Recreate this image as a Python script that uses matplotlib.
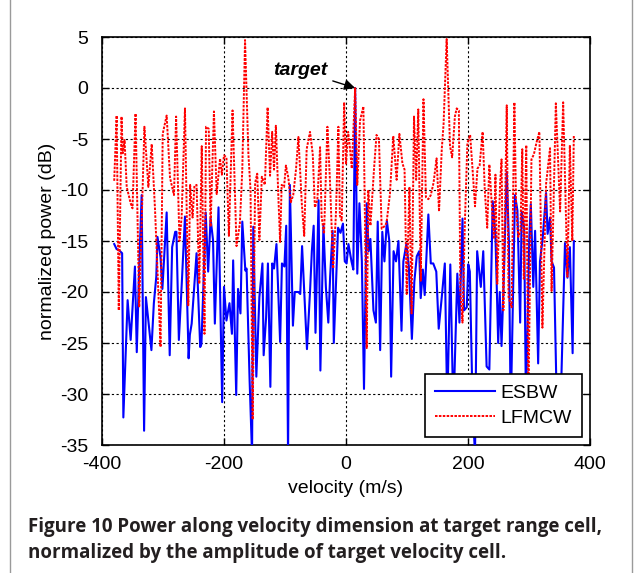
import matplotlib
matplotlib.use("Agg")
import matplotlib.pyplot as plt
from matplotlib.lines import Line2D

plt.rcParams['font.family'] = ['Liberation Sans', 'DejaVu Sans']
plt.rcParams['axes.unicode_minus'] = False

# ---------------- data ----------------
esbw_velocity = [
    -380, -376, -372, -367, -365, -358, -353, -346, -343, -339, -335, -331, -328, -319, -315,
    -311, -309, -304, -301, -294, -289, -285, -280, -278, -274, -269, -264, -258, -256, -253,
    -245, -239, -237, -234, -230, -226, -222, -218, -215, -209, -203, -200, -196, -191, -187,
    -185, -180, -177, -173, -170, -165, -163, -158, -154, -152, -147, -142, -137, -135, -131,
    -128, -124, -121, -118, -114, -108, -105, -101, -98, -95, -92, -87, -84, -78, -75,
    -72, -68, -64, -59, -56, -53, -50, -45, -42, -37, -33, -29, -26, -22, -20,
    -16, -13, -9, -5, -2, 1, 4, 9, 12, 15, 18.5, 22, 26, 29.5, 34,
    37, 40, 45, 49, 52, 56, 59.5, 63, 67, 71, 74, 78, 82, 86, 91,
    94, 99, 103, 108, 112, 116, 120, 122.5, 126, 129, 135, 139, 143, 148, 152,
    157, 162, 166, 171, 176, 182.5, 186, 191, 193.5, 198, 200.5, 203, 207.5, 211.5, 215,
    221, 225, 230.5, 235, 240.5, 245, 249.5, 252, 255, 258, 263.5, 267, 270, 277, 281,
    285.5, 288, 292, 295, 300.5, 303, 307, 310, 315, 318, 322.5, 328, 330.5, 334.5, 337,
    341, 345.5, 351, 355, 359, 363, 367, 371.5, 373.5]
esbw_db = [
    -15.3, -15.8, -15.9, -16.2, -32.3, -20.8, -24.7, -17.5, -25.9, -17.5, -10.5, -33.6, -20.5, -25.7, -21.1,
    -18.5, -14.6, -16.6, -19.7, -12.2, -26.2, -15.6, -14.1, -14.1, -24.7, -18.9, -12.6, -26.5, -24.2, -23.1,
    -16.2, -25.4, -25.1, -19.8, -12.2, -18.0, -12.8, -14.9, -23.1, -11.7, -30.8, -19.5, -22.8, -21.1, -24.1,
    -16.9, -30.1, -19.7, -22.1, -13.1, -17.9, -17.7, -28.7, -36.0, -13.6, -28.3, -20.5, -17.2, -26.2, -22.5,
    -17.2, -29.3, -17.2, -17.7, -15.3, -24.9, -17.2, -17.5, -13.5, -36.0, -9.5, -23.3, -20.0, -20.0, -20.2,
    -15.5, -20.5, -25.6, -20.0, -16.0, -13.5, -24.0, -11.0, -27.7, -13.5, -19.5, -23.0, -18.5, -14.0, -25.0,
    -18.5, -13.7, -14.2, -13.3, -17.0, -17.2, -15.3, -17.0, -17.8, 0.0, -18.2, -11.3, -17.0, -29.5, -11.3,
    -16.0, -14.8, -21.8, -23.0, -13.1, -25.7, -14.1, -17.0, -13.0, -15.0, -28.3, -16.0, -17.0, -15.0, -23.8,
    -17.0, -15.3, -17.5, -24.6, -19.0, -16.5, -16.0, -20.6, -17.8, -20.3, -12.4, -17.2, -17.2, -18.0, -23.6,
    -20.5, -17.2, -31.5, -17.3, -32.0, -18.2, -23.0, -12.8, -21.8, -21.5, -17.3, -18.0, -31.0, -36.0, -16.0,
    -19.5, -16.0, -27.3, -27.6, -11.1, -14.5, -25.0, -20.0, -25.3, -19.9, -8.2, -15.0, -32.0, -10.5, -12.0,
    -23.0, -12.1, -13.7, -31.0, -14.7, -11.4, -19.5, -14.0, -27.0, -17.0, -14.7, -10.3, -14.3, -12.7, -17.0,
    -17.6, -31.0, -33.0, -24.0, -15.2, -18.6, -15.6, -26.0, -15.0]

lfmcw_velocity = [
    -380, -376, -372.5, -368, -366, -363, -359.5, -353, -350, -345, -339, -330.5, -324, -318.5, -313,
    -304, -300.5, -294, -288.5, -282, -278.5, -273, -269.5, -264, -258.5, -255.5, -251.5, -248.5, -245, -240.5,
    -236.5, -232, -229.5, -225, -222, -216.5, -212, -206.5, -203.5, -200, -196, -192, -186, -179.5, -174,
    -170, -165.5, -160, -156.5, -153, -149, -145.5, -142, -138, -133, -128.5, -124.5, -121, -118, -115,
    -111, -108, -105.5, -101.5, -98.5, -94.5, -90.5, -86.5, -82, -78, -72.5, -68.5, -64.5, -59, -54.5,
    -51, -47, -42.5, -40, -36, -30.5, -26.5, -21, -16.5, -12.5, -10, -7, -3, 0, 3.5,
    6, 9.5, 15, 18.5, 23, 28.5, 34, 36.5, 40, 46, 50, 54, 58.5, 64, 66.5,
    72, 77.5, 83, 87.5, 92.5, 96, 99.5, 104, 107.5, 111.5, 115, 118.5, 122.5, 127, 131,
    135, 139, 143.5, 148.5, 152.5, 157, 160, 165, 170.5, 174, 178.5, 181.5, 185, 187.5, 191,
    195, 199, 203.5, 207.5, 211.5, 215.5, 219, 224, 227.5, 231.5, 235, 238.5, 242.5, 245, 248,
    252.5, 255, 258, 263.5, 266.5, 271.5, 276, 279, 282.5, 286, 289, 291.5, 295.5, 299, 304,
    308, 312.5, 317, 322, 328, 334.5, 337, 344, 351, 356, 363, 367, 371, 373.5]
lfmcw_db = [
    -9.1, -2.7, -21.8, -2.8, -6.4, -5.1, -9.7, -11.3, -11.8, -2.5, -21.5, -3.8, -9.7, -5.5, -12.0,
    -25.4, -4.5, -2.7, -8.8, -10.5, -2.8, -15.0, -12.7, -2.0, -21.3, -9.5, -12.7, -9.6, -9.5, -19.2,
    -5.7, -24.1, -3.8, -4.0, -13.6, -2.3, -10.4, -6.9, -8.5, -6.6, -6.8, -14.5, -2.2, -15.5, -13.3,
    -8.0, 4.7, -6.5, -10.0, -32.5, -9.3, -8.4, -14.9, -8.7, -9.5, -1.9, -8.6, -4.3, -8.0, -3.7,
    -10.5, -15.1, -9.5, -9.7, -7.6, -8.8, -11.2, -10.5, -8.0, -4.8, -11.3, -14.5, -6.0, -4.3, -6.5,
    -11.7, -11.0, -5.8, -12.6, -14.3, -3.8, -8.8, -17.7, -12.3, -3.8, -12.5, -13.0, -1.4, -7.5, -4.3,
    -5.6, -7.9, 0.0, -9.5, -3.2, -1.8, -25.5, -10.0, -13.5, -7.9, -4.6, -5.0, -13.8, -13.5, -13.2,
    -10.4, -4.7, -9.0, -4.5, -7.4, -8.0, -20.2, -9.7, -22.1, -2.8, -9.0, -2.1, -18.9, -1.1, -10.7,
    -10.9, -10.5, -9.3, -6.9, -12.1, -6.0, -3.5, 4.8, -5.7, -6.8, -2.8, -2.0, -2.2, -20.0, -23.0,
    -13.0, -5.4, -4.6, -8.0, -11.6, -7.9, -7.6, -4.3, -10.0, -13.7, -7.5, -11.0, -14.8, -8.5, -19.2,
    -9.5, -7.0, -21.8, -1.7, -20.5, -21.5, -1.4, -12.0, -14.6, -14.0, -6.0, -18.7, -5.6, -31.0, -7.0,
    -6.5, -5.3, -4.3, -23.5, -9.4, -5.9, -19.9, -1.5, -12.1, -1.4, -18.5, -5.6, -15.0, -4.6]

series_labels = ["ESBW", "LFMCW"]
x_ticks = [-400, -200, 0, 200, 400]
y_ticks = [5, 0, -5, -10, -15, -20, -25, -30, -35]
target_point = (15, 0.0)
caption_lines = ["Figure 10 Power along velocity dimension at target range cell,",
                 "normalized by the amplitude of target velocity cell."]

assert len(esbw_velocity) == len(esbw_db)
assert len(lfmcw_velocity) == len(lfmcw_db)

# ---------------- figure ----------------
W, H = 635, 573
fig = plt.figure(figsize=(W / 100, H / 100), dpi=100)
ax = fig.add_axes([102 / W, 1 - 445 / H, 488 / W, 408 / H])

ax.plot(esbw_velocity, esbw_db, color=(0, 0, 1), lw=1.5, label=series_labels[0], zorder=3)
ax.plot(lfmcw_velocity, lfmcw_db, color=(1, 0, 0), lw=1.4, linestyle=(0, (1.3, 0.7)),
        label=series_labels[1], zorder=4)

ax.set_xlim(-400, 400)
ax.set_ylim(-35, 5)
ax.set_xticks(x_ticks)
ax.set_yticks(y_ticks)
ax.tick_params(direction='in', length=5, width=1, top=True, right=True, labelsize=14)
ax.tick_params(axis='x', pad=8)
ax.tick_params(axis='y', pad=10)
for s in ax.spines.values():
    s.set_linewidth(1.2)
ax.grid(True, color='k', linestyle=(0, (2, 2.2)), linewidth=0.8)
ax.set_axisbelow(True)

ax.set_xlabel("velocity (m/s)", fontsize=14, labelpad=5)
ax.set_ylabel("normalized power (dB)", fontsize=14, labelpad=3)

ax.annotate("target", xy=target_point, xytext=(-75, 1.7), textcoords='data',
            ha='center', va='center', fontsize=14, fontweight='bold', fontstyle='italic',
            arrowprops=dict(arrowstyle='-|>', color='k', lw=1.0, mutation_scale=16,
                            shrinkA=2, shrinkB=0), zorder=6)

leg = ax.legend(loc='lower right', fontsize=14, handlelength=3.1, handletextpad=0.3,
                borderaxespad=0.42, borderpad=0.5, labelspacing=0.4,
                fancybox=False, framealpha=1, edgecolor='k')
leg.get_frame().set_linewidth(1.2)
leg.set_zorder(10)

# caption
cap_font = ['Open Sans', 'DejaVu Sans']
t1 = fig.text(28 / W, 1 - 527 / H, caption_lines[0], ha='left', va='center',
              fontsize=13, fontweight='bold', family=cap_font, color='#231f20')
t2 = fig.text(28 / W, 1 - 553 / H, caption_lines[1], ha='left', va='center',
              fontsize=13, fontweight='bold', family=cap_font, color='#231f20')
fig.canvas.draw()
r = fig.canvas.get_renderer()
w1 = t1.get_window_extent(r).width
fs = 13 * 570 / w1
t1.set_fontsize(fs)
t2.set_fontsize(fs)

# thin frame lines at image edges
fig.add_artist(Line2D([10 / W, 10 / W], [0, 1], color='#9a9a9a', lw=1, transform=fig.transFigure))
fig.add_artist(Line2D([632 / W, 632 / W], [0, 1], color='#9a9a9a', lw=1, transform=fig.transFigure))

fig.savefig("out.png", dpi=100)
